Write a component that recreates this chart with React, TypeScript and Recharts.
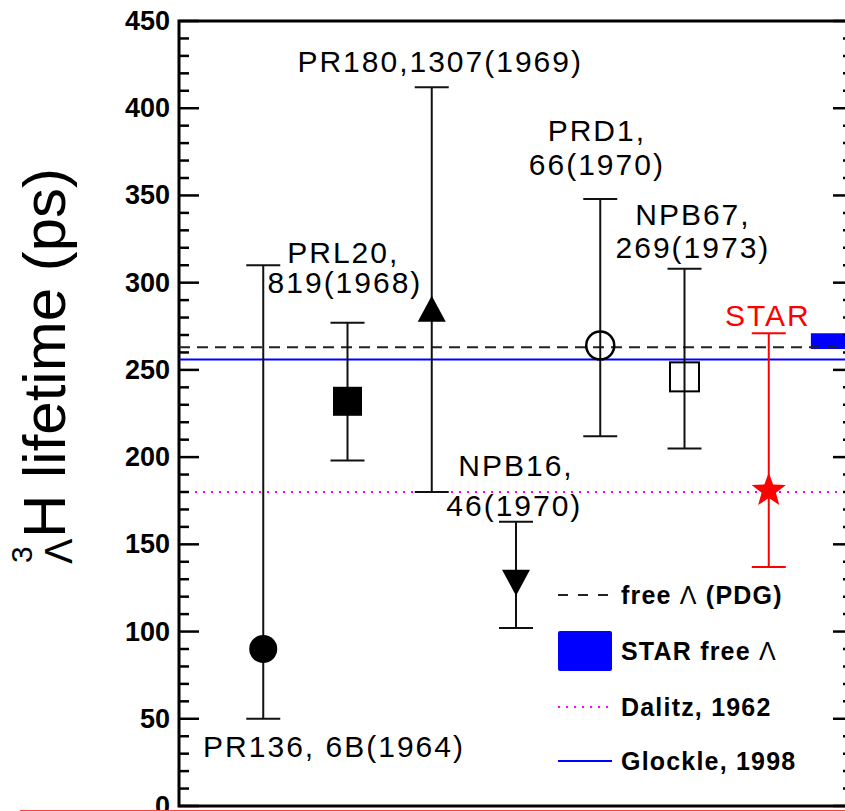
import {
  ScatterChart,
  Scatter,
  XAxis,
  YAxis,
  ErrorBar,
  ReferenceLine,
  ReferenceArea,
  ReferenceDot,
  Legend,
} from 'recharts';

// measurements of the hypertriton lifetime
const experiments = ['PR136', 'PRL20', 'PR180', 'NPB16', 'PRD1', 'NPB67', 'STAR'];
const slots = [1, 2, 3, 4, 5, 6, 7];
const lifetimes = [90, 232, 285, 128, 264, 246, 182];
const errUp = [220, 45, 127, 35, 84, 62, 89];
const errDown = [40, 34, 105, 26, 52, 41, 45];
const markers = ['dot', 'square', 'triangle', 'triangleDown', 'ring', 'box', 'star'];

// horizontal references
const pdgLambda = 263;
const glockle1998 = 256;
const dalitz1962 = 180;
const starFreeLambda = [262, 271];
const starFreeLambdaSlot = [7.5, 8];

// reference captions, placed in data units
const notes = ['PR180,1307(1969)', 'PRD1,', '66(1970)', 'NPB67,', '269(1973)', 'PRL20,', '819(1968)', 'NPB16,', '46(1970)', 'PR136, 6B(1964)', 'STAR'];
const noteX = [3.1, 4.96, 4.96, 6.1, 6.1, 1.95, 1.97, 4.0, 3.98, 1.84, 6.99];
const noteY = [421, 381, 362, 333, 314, 311, 294, 189, 166, 28, 275];

const majorTicks = [0, 50, 100, 150, 200, 250, 300, 350, 400, 450];
const yTicks = majorTicks.flatMap((t) => (t < 450 ? [t, t + 10, t + 20, t + 30, t + 40] : [t]));

const legendLabels = ['free Λ (PDG)', 'STAR free Λ', 'Dalitz, 1962', 'Glockle, 1998'];

const W = 870;
const H = 830;
const PLOT_LEFT = 179;
const PLOT_RIGHT = 853;
const FONT = '"Liberation Sans", Arial, Helvetica, sans-serif';

function Marker({ cx, cy, kind }: { cx: number; cy: number; kind: string }) {
  switch (kind) {
    case 'dot':
      return <circle cx={cx} cy={cy} r={14} fill="#000" />;
    case 'square':
      return <rect x={cx - 14.5} y={cy - 14.5} width={29} height={29} fill="#000" />;
    case 'triangle':
      return <polygon points={`${cx},${cy - 13} ${cx + 14},${cy + 13} ${cx - 14},${cy + 13}`} fill="#000" />;
    case 'triangleDown':
      return <polygon points={`${cx},${cy + 13} ${cx + 14},${cy - 13} ${cx - 14},${cy - 13}`} fill="#000" />;
    case 'ring':
      return <circle cx={cx} cy={cy} r={14} fill="none" stroke="#000" strokeWidth={2.5} />;
    case 'box':
      return <rect x={cx - 14.5} y={cy - 14.5} width={29} height={29} fill="none" stroke="#000" strokeWidth={2} />;
    default: {
      const pts = [];
      for (let i = 0; i < 10; i++) {
        const r = i % 2 === 0 ? 18 : 7.5;
        const a = -Math.PI / 2 + (i * Math.PI) / 5;
        pts.push(`${cx + r * Math.cos(a)},${cy + 2 + r * Math.sin(a)}`);
      }
      return <polygon points={pts.join(' ')} fill="#ff0000" />;
    }
  }
}

function LifetimeTick({ y, payload }: any) {
  const v = payload.value;
  const major = v % 50 === 0;
  const len = major ? 20 : 10;
  return (
    <g>
      <line x1={PLOT_LEFT} x2={PLOT_LEFT + len} y1={y} y2={y} stroke="#000" strokeWidth={2.5} />
      <line x1={PLOT_RIGHT - len} x2={PLOT_RIGHT} y1={y} y2={y} stroke="#000" strokeWidth={2.5} />
      {major && (
        <text
          x={PLOT_LEFT - 9}
          y={y}
          textAnchor="end"
          dominantBaseline="central"
          fontFamily={FONT}
          fontWeight="bold"
          fontSize={27}
          fill="#000"
        >
          {v}
        </text>
      )}
    </g>
  );
}

function AxisTitle() {
  return (
    <g transform="translate(65 538) rotate(-90)" fontFamily={FONT} fill="#000">
      <text x={-25} y={-33} fontSize={30}>3</text>
      <text x={-26} y={7} fontSize={38}>Λ</text>
      <text x={0} y={0} fontSize={60}>H lifetime (ps)</text>
    </g>
  );
}

function withLambda(label: string) {
  const parts = label.split('Λ');
  return parts.map((p, i) => (
    <tspan key={i}>
      {p}
      {i < parts.length - 1 && <tspan fontWeight="normal">Λ</tspan>}
    </tspan>
  ));
}

function LegendBox() {
  const rows = [20, 76, 132, 186];
  return (
    <svg width={270} height={210} style={{ display: 'block' }}>
      <line x1={10} x2={60} y1={rows[0]} y2={rows[0]} stroke="#222" strokeWidth={2} strokeDasharray="10 10" />
      <rect x={10} y={56} width={54} height={40} rx={2} fill="#0000ff" />
      <line x1={10} x2={64} y1={rows[2]} y2={rows[2]} stroke="#ff00ff" strokeWidth={2} strokeDasharray="2 6" />
      <line x1={10} x2={64} y1={rows[3]} y2={rows[3]} stroke="#0000ff" strokeWidth={2} />
      {legendLabels.map((l, i) => (
        <text
          key={l}
          x={73}
          y={rows[i] + 9}
          fontFamily={FONT}
          fontWeight="bold"
          fontSize={25}
          letterSpacing={1.2}
          fill="#000"
        >
          {withLambda(l)}
        </text>
      ))}
    </svg>
  );
}

export default function App() {
  return (
    <div
      style={{
        position: 'absolute',
        left: 0,
        top: 0,
        width: 845,
        height: 811,
        overflow: 'hidden',
        background: '#fff',
      }}
    >
      <ScatterChart width={W} height={H} margin={{ top: 21, right: W - PLOT_RIGHT, bottom: 24, left: 0 }}>
        <XAxis type="number" dataKey="x" domain={[0, 8]} hide />
        <YAxis
          type="number"
          dataKey="y"
          domain={[0, 450]}
          ticks={yTicks}
          interval={0}
          width={PLOT_LEFT}
          axisLine={false}
          tickLine={false}
          tick={<LifetimeTick />}
          label={{ content: () => <AxisTitle /> }}
        />
        <ReferenceLine y={dalitz1962} stroke="#ff00ff" strokeWidth={2} strokeDasharray="2 6" />
        <ReferenceLine y={glockle1998} stroke="#0000ff" strokeWidth={2} />
        <ReferenceLine y={pdgLambda} stroke="#222" strokeWidth={2} strokeDasharray="11 7" />
        <ReferenceArea
          x1={starFreeLambdaSlot[0]}
          x2={starFreeLambdaSlot[1]}
          y1={starFreeLambda[0]}
          y2={starFreeLambda[1]}
          fill="#0000ff"
          fillOpacity={1}
          stroke="none"
        />
        {experiments.map((name, i) => {
          const color = name === 'STAR' ? '#ff0000' : '#111';
          return (
            <Scatter
              key={name}
              name={name}
              data={[{ x: slots[i], y: lifetimes[i], err: [errDown[i], errUp[i]] }]}
              isAnimationActive={false}
              shape={(p: any) => <Marker cx={p.cx} cy={p.cy} kind={markers[i]} />}
            >
              <ErrorBar
                dataKey="err"
                direction="y"
                width={17}
                stroke={color}
                strokeWidth={2}
                isAnimationActive={false}
              />
            </Scatter>
          );
        })}
        {notes.map((t, i) => (
          <ReferenceDot
            key={t}
            x={noteX[i]}
            y={noteY[i]}
            r={0}
            shape={(p: any) => (
              <text
                x={p.cx}
                y={p.cy}
                textAnchor="middle"
                fontFamily={FONT}
                fontSize={30}
                letterSpacing={2}
                fill={t === 'STAR' ? '#ff0000' : '#000'}
              >
                {t}
              </text>
            )}
          />
        ))}
        <ReferenceArea x1={0} x2={8} y1={0} y2={450} fill="none" stroke="#000" strokeWidth={3} />
        <Legend
          layout="horizontal"
          verticalAlign="middle"
          align="center"
          wrapperStyle={{ left: 548, top: 575, width: 270, height: 210 }}
          content={() => <LegendBox />}
        />
      </ScatterChart>
      <div style={{ position: 'absolute', left: 20, top: 810, width: 825, height: 1, background: '#ff4040' }} />
    </div>
  );
}
